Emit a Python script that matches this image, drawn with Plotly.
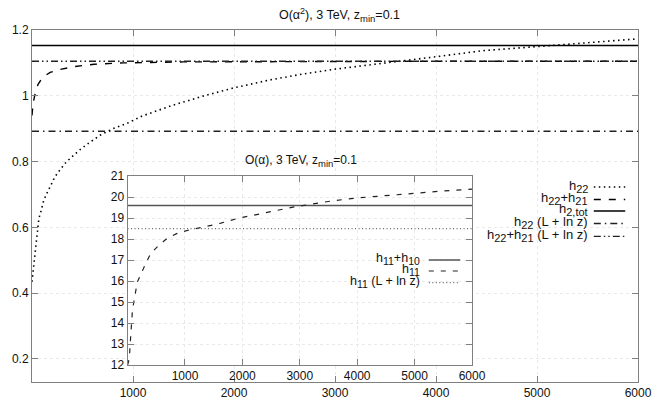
import plotly.graph_objects as go

# ---------------- data ----------------
x_range = [0, 6000]

h22_x = [0, 7, 13, 20, 29, 36, 43, 49, 55, 62, 68, 85, 101, 117, 143, 169, 195, 224, 260, 298, 337, 383,
         473, 570, 674, 794, 940, 1086, 1381, 1705, 1997, 2353, 2677, 3001, 3326, 3553, 4007, 4461,
         4979, 5206, 5595, 6000]
h22_y = [0.435, 0.453, 0.473, 0.492, 0.511, 0.530, 0.549, 0.568, 0.588, 0.608, 0.627, 0.645, 0.663, 0.683,
         0.701, 0.718, 0.736, 0.752, 0.768, 0.784, 0.798, 0.811, 0.836, 0.858, 0.880, 0.899, 0.916,
         0.938, 0.970, 1.000, 1.024, 1.048, 1.066, 1.081, 1.093, 1.101, 1.119, 1.137, 1.149, 1.156,
         1.164, 1.173]

h22h21_x = [0, 10, 33, 60, 104, 180, 260, 422, 616, 908, 1500, 2500, 4000, 6000]
h22h21_y = [0.94, 0.975, 1.010, 1.035, 1.056, 1.071, 1.079, 1.089, 1.096, 1.100, 1.103, 1.104, 1.105, 1.105]

h2tot = 1.153
h22_L = 0.892
h22h21_L = 1.105

h11_x = [0, 30, 60, 85, 115, 170, 285, 400, 542, 684, 855, 1056, 1369, 1626, 1911, 2253, 2538, 2881,
         3336, 3565, 4000, 4500, 5000, 5500, 6000]
h11_y = [12.0, 12.3, 13.6, 14.6, 15.1, 15.95, 16.65, 17.3, 17.7, 18.02, 18.26, 18.42, 18.6, 18.76,
         18.98, 19.17, 19.33, 19.52, 19.72, 19.82, 19.96, 20.08, 20.19, 20.29, 20.38]
h11h10 = 19.6
h11_L = 18.5

main_xticks = [1000, 2000, 3000, 4000, 5000, 6000]
main_yticks = [0.2, 0.4, 0.6, 0.8, 1.0, 1.2]
main_yticktext = ["0.2", "0.4", "0.6", "0.8", "1", "1.2"]
inset_xticks = [1000, 2000, 3000, 4000, 5000, 6000]
inset_yticks = [12, 13, 14, 15, 16, 17, 18, 19, 20, 21]


def sub(s, size=11, shift=3):
    return "<span style='font-size:%gpx;baseline-shift:-%gpx'>%s</span>" % (size, shift, s)


def sup(s, size=9, shift=5):
    return "<span style='font-size:%gpx;baseline-shift:%gpx'>%s</span>" % (size, shift, s)


main_title = "O(α" + sup("2") + "), 3 TeV, z" + sub("min", 9.5, 3) + "=0.1"
inset_title = "O(α), 3 TeV, z" + sub("min", 9.5, 3) + "=0.1"
main_labels = ["h" + sub("22"), "h" + sub("22") + "+h" + sub("21"), "h" + sub("2,tot"),
               "h" + sub("22") + " (L + ln z)", "h" + sub("22") + "+h" + sub("21") + " (L + ln z)"]
inset_labels = ["h" + sub("11", 10.5) + "+h" + sub("10", 10.5), "h" + sub("11", 10.5),
                "h" + sub("11", 10.5) + " (L + ln z)"]

# ---------------- styles ----------------
W, H = 664, 412
ML, MR, MT, MB = 31, 16, 30, 29
FONT = "Liberation Sans, Arial, Helvetica, sans-serif"
AX = "#808080"
GRID = "#e9e9e9"

DOT = "1.5px,3.5px"
DASH = "7px,8px"
DASHDOT = "7px,4px,1.5px,4px"
DASHDOTDOT = "7px,3px,1.5px,3px,1.5px,3px"
IDASH = "5px,7px"
IDOT = "1px,2.5px"

main_styles = [
    dict(color="black", width=1.6, dash=DOT),
    dict(color="black", width=1.4, dash=DASH),
    dict(color="black", width=1.5, dash="solid"),
    dict(color="#222", width=1.4, dash=DASHDOT),
    dict(color="#222", width=1.4, dash=DASHDOTDOT),
]
inset_styles = [
    dict(color="#555", width=1.4, dash="solid"),
    dict(color="#222", width=1.2, dash=IDASH),
    dict(color="#666", width=1.2, dash=IDOT),
]


def px2px(x):
    return (x - ML) / (W - ML - MR)


def py2py(y):
    return (H - MB - y) / (H - MT - MB)


fig = go.Figure()

# main traces
fig.add_trace(go.Scatter(x=h22_x, y=h22_y, mode="lines", line=main_styles[0], xaxis="x", yaxis="y"))
fig.add_trace(go.Scatter(x=h22h21_x, y=h22h21_y, mode="lines", line=main_styles[1], xaxis="x", yaxis="y"))
fig.add_trace(go.Scatter(x=x_range, y=[h2tot, h2tot], mode="lines", line=main_styles[2], xaxis="x", yaxis="y"))
fig.add_trace(go.Scatter(x=x_range, y=[h22_L, h22_L], mode="lines", line=main_styles[3], xaxis="x", yaxis="y"))
fig.add_trace(go.Scatter(x=x_range, y=[h22h21_L, h22h21_L], mode="lines", line=main_styles[4], xaxis="x", yaxis="y"))

# inset traces
fig.add_trace(go.Scatter(x=x_range, y=[h11h10, h11h10], mode="lines", line=inset_styles[0], xaxis="x2", yaxis="y2"))
fig.add_trace(go.Scatter(x=h11_x, y=h11_y, mode="lines", line=inset_styles[1], xaxis="x2", yaxis="y2"))
fig.add_trace(go.Scatter(x=x_range, y=[h11_L, h11_L], mode="lines", line=inset_styles[2], xaxis="x2", yaxis="y2"))

axis_common = dict(
    showline=True, linecolor=AX, linewidth=1, mirror="ticks",
    ticks="inside", ticklen=6, tickcolor=AX, tickwidth=1,
    showgrid=True, gridcolor=GRID, griddash="dot", gridwidth=1,
    zeroline=False, tickfont=dict(family=FONT, size=12, color="#111"),
)

ix0, ix1 = px2px(128.3), px2px(479)
iy0, iy1 = py2py(366), py2py(176.5)

fig.update_layout(
    width=W, height=H,
    margin=dict(l=ML, r=MR, t=MT, b=MB),
    paper_bgcolor="white", plot_bgcolor="white",
    showlegend=False,
    font=dict(family=FONT, size=12, color="#111"),
    title=dict(text=main_title, x=339.5 / W, xanchor="center",
               y=1 - 14.5 / H, yanchor="middle", font=dict(family=FONT, size=12.5, color="#111")),
    xaxis=dict(range=[0, 6000], tickvals=main_xticks, domain=[0, 1], anchor="y", **axis_common),
    yaxis=dict(range=[0.13, 1.2], tickvals=main_yticks, ticktext=main_yticktext, domain=[0, 1],
               anchor="x", **axis_common),
    xaxis2=dict(range=[0, 6000], tickvals=inset_xticks, domain=[ix0, ix1], anchor="y2", **axis_common),
    yaxis2=dict(range=[12, 21], tickvals=inset_yticks, domain=[iy0, iy1], anchor="x2", **axis_common),
)

annotations = [
    dict(text=inset_title, xref="paper", yref="paper", x=px2px(305), y=py2py(161),
         xanchor="center", yanchor="middle", showarrow=False, font=dict(family=FONT, size=12, color="#111")),
]
shapes = []

# main legend (text right-aligned, sample on the right)
main_rows = [187.5, 200, 211.5, 224, 237]
for lab, st, yy in zip(main_labels, main_styles, main_rows):
    annotations.append(dict(text=lab, xref="paper", yref="paper", x=px2px(599), y=py2py(yy - 1),
                            xanchor="right", yanchor="middle", showarrow=False,
                            font=dict(family=FONT, size=13, color="#111")))
    shapes.append(dict(type="line", xref="paper", yref="paper", x0=px2px(603), x1=px2px(635),
                       y0=py2py(yy), y1=py2py(yy), line=st, layer="above"))

inset_rows = [260.7, 271.7, 283.3]
for lab, st, yy in zip(inset_labels, inset_styles, inset_rows):
    annotations.append(dict(text=lab, xref="paper", yref="paper", x=px2px(428), y=py2py(yy - 1),
                            xanchor="right", yanchor="middle", showarrow=False,
                            font=dict(family=FONT, size=12.5, color="#111")))
    shapes.append(dict(type="line", xref="paper", yref="paper", x0=px2px(435), x1=px2px(467),
                       y0=py2py(yy), y1=py2py(yy), line=st, layer="above"))

fig.update_layout(annotations=annotations, shapes=shapes)

fig.write_html("out.html", config={"displayModeBar": False},
               post_script="document.body.style.margin='0';document.body.style.overflow='hidden';")
